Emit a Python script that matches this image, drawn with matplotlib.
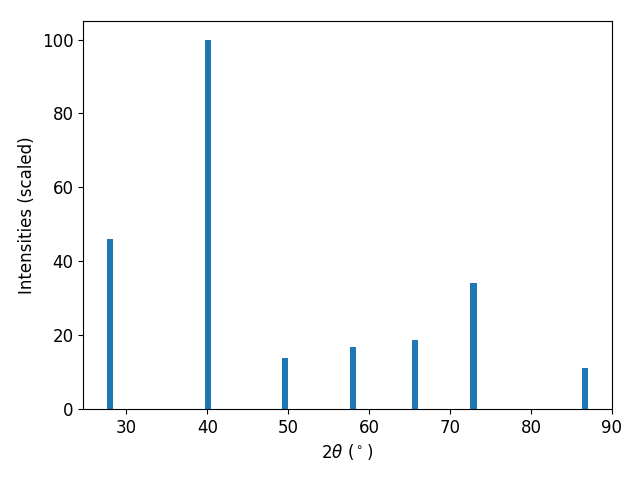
import numpy as np
import matplotlib.pyplot as plt

two_theta = [28.0, 40.05, 49.65, 58.0, 65.72, 72.9, 86.7]
intensity = [46.0, 100.0, 13.8, 16.8, 18.7, 34.1, 11.1]

plt.rcParams["font.size"] = 12
fig, ax = plt.subplots(figsize=(6.4, 4.8), dpi=100)
ax.bar(two_theta, intensity, width=0.75, color="#1f77b4")
ax.set_xlim(24.65, 90)
ax.set_xlabel(r"$2\theta$ ($^\circ$)")
ax.set_ylabel("Intensities (scaled)")
fig.subplots_adjust(left=0.13, right=0.956, top=0.956, bottom=0.148)
fig.savefig("out.png")
